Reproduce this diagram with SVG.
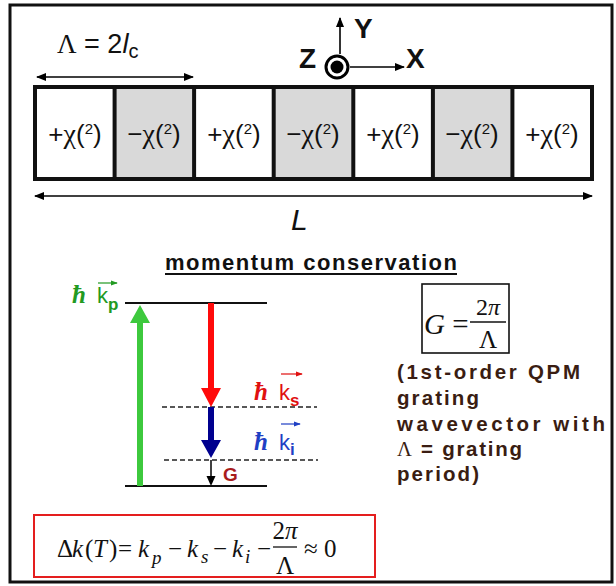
<svg xmlns="http://www.w3.org/2000/svg" width="616" height="586" viewBox="0 0 616 586">
<defs>
<marker id="ah" viewBox="0 0 10 8" refX="9" refY="4" markerWidth="10" markerHeight="8" markerUnits="userSpaceOnUse" orient="auto-start-reverse"><path d="M0,0 L10,4 L0,8 Z" fill="#000"/></marker>
<marker id="ahs" viewBox="0 0 8 6" refX="7" refY="3" markerWidth="7" markerHeight="6" markerUnits="userSpaceOnUse" orient="auto"><path d="M0,0 L8,3 L0,6 Z" fill="context-stroke"/></marker>
<style>
.sans{font-family:"Liberation Sans",Arial,sans-serif}
.serif{font-family:"Liberation Serif","Times New Roman",serif}
.cell{font-family:"Liberation Sans",Arial,sans-serif;font-size:26px;fill:#111;text-anchor:middle}
.chi{font-family:"Liberation Serif","Times New Roman",serif;font-size:28px}
.ln{stroke:#000;stroke-width:1.6;fill:none}
.dash{stroke:#222;stroke-width:1.6;stroke-dasharray:5 3;fill:none}
.lvl{stroke:#111;stroke-width:2;fill:none}
.desc{font-family:"Liberation Sans",Arial,sans-serif;font-weight:bold;font-size:20.5px;fill:#3a1d12}
.axis{font-family:"Liberation Sans",Arial,sans-serif;font-weight:bold;font-size:28px;fill:#111}
.eq{font-family:"Liberation Serif","Times New Roman",serif;font-size:25px;fill:#111}
.it{font-style:italic}
</style>
</defs>
<rect x="10" y="5" width="602" height="577" fill="#fff" stroke="#111" stroke-width="3"/>

<g id="period-label">
<text x="57" y="53" font-size="27" fill="#111"><tspan class="serif">Λ</tspan><tspan class="sans"> = 2</tspan><tspan class="sans" font-style="italic">l</tspan><tspan class="sans" font-size="20" dy="5">c</tspan></text>
</g>

<g id="axes">
<line x1="340" y1="54" x2="340" y2="18" class="ln" marker-end="url(#ah)"/>
<line x1="350" y1="67" x2="404" y2="67" class="ln" marker-end="url(#ah)"/>
<circle cx="337" cy="67" r="11" fill="#fff" stroke="#000" stroke-width="3"/>
<circle cx="337" cy="67" r="6.5" fill="#000"/>
<text x="354" y="38" class="axis">Y</text>
<text x="299" y="68" class="axis">Z</text>
<text x="406" y="68" class="axis">X</text>
</g>

<g id="crystal">
<rect x="35" y="87" width="557" height="92" fill="#fff"/>
<rect x="114.6" y="87" width="79.5" height="92" fill="#d9d9d9"/>
<rect x="273.7" y="87" width="79.6" height="92" fill="#d9d9d9"/>
<rect x="432.9" y="87" width="79.5" height="92" fill="#d9d9d9"/>
<g stroke="#111" stroke-width="4" fill="none">
<rect x="35" y="87" width="557" height="92"/>
<line x1="114.6" y1="87" x2="114.6" y2="179"/>
<line x1="194.1" y1="87" x2="194.1" y2="179"/>
<line x1="273.7" y1="87" x2="273.7" y2="179"/>
<line x1="353.3" y1="87" x2="353.3" y2="179"/>
<line x1="432.9" y1="87" x2="432.9" y2="179"/>
<line x1="512.4" y1="87" x2="512.4" y2="179"/>
</g>
<text x="75" y="143" class="cell">+<tspan class="chi">χ</tspan>(<tspan font-size="15" dy="-9">2</tspan><tspan dy="9">)</tspan></text>
<text x="154" y="143" class="cell">−<tspan class="chi">χ</tspan>(<tspan font-size="15" dy="-9">2</tspan><tspan dy="9">)</tspan></text>
<text x="234" y="143" class="cell">+<tspan class="chi">χ</tspan>(<tspan font-size="15" dy="-9">2</tspan><tspan dy="9">)</tspan></text>
<text x="313" y="143" class="cell">−<tspan class="chi">χ</tspan>(<tspan font-size="15" dy="-9">2</tspan><tspan dy="9">)</tspan></text>
<text x="393" y="143" class="cell">+<tspan class="chi">χ</tspan>(<tspan font-size="15" dy="-9">2</tspan><tspan dy="9">)</tspan></text>
<text x="472" y="143" class="cell">−<tspan class="chi">χ</tspan>(<tspan font-size="15" dy="-9">2</tspan><tspan dy="9">)</tspan></text>
<text x="552" y="143" class="cell">+<tspan class="chi">χ</tspan>(<tspan font-size="15" dy="-9">2</tspan><tspan dy="9">)</tspan></text>
</g>

<g id="connectors">
<line x1="37" y1="77" x2="193" y2="77" class="ln" marker-start="url(#ah)" marker-end="url(#ah)"/>
<line x1="35" y1="196" x2="592" y2="196" class="ln" marker-start="url(#ah)" marker-end="url(#ah)"/>
</g>
<text x="291" y="230" class="sans" font-style="italic" font-size="30" fill="#111">L</text>

<g id="title">
<text x="165" y="270" class="sans" font-weight="bold" font-size="22" fill="#111" textLength="292" lengthAdjust="spacing">momentum conservation</text>
<line x1="165" y1="274" x2="457" y2="274" stroke="#111" stroke-width="1.8"/>
</g>

<g id="levels">
<line x1="125" y1="303" x2="267" y2="303" class="lvl"/>
<line x1="125" y1="486" x2="267" y2="486" class="lvl"/>
<line x1="162" y1="407" x2="317" y2="407" class="dash"/>
<line x1="164" y1="460" x2="318" y2="460" class="dash"/>
</g>

<g id="arrows">
<path d="M137,486 L137,323 L130,323 L140,305 L150,323 L143,323 L143,486 Z" fill="#3dc93d"/>
<path d="M208,303 L214,303 L214,388 L221,388 L211,407 L201,388 L208,388 Z" fill="#ff0a0a"/>
<path d="M208,407 L214,407 L214,440 L221,440 L211,458 L201,440 L208,440 Z" fill="#00008f"/>
<line x1="211" y1="460" x2="211" y2="478" stroke="#000" stroke-width="1.5"/>
<path d="M206.5,476 L215.5,476 L211,486 Z" fill="#000"/>
</g>

<g id="label-kp" fill="#229a22">
<text x="72" y="303" class="serif" font-style="italic" font-weight="bold" font-size="25">ħ</text>
<text x="97" y="303" class="sans" font-size="22">k<tspan font-size="17" font-weight="bold" dy="7">p</tspan></text>
<line x1="98" y1="283" x2="117" y2="283" stroke="#229a22" stroke-width="1.2" marker-end="url(#ahs)"/>
</g>
<g id="label-ks" fill="#e01010">
<text x="254" y="400" class="serif" font-style="italic" font-weight="bold" font-size="25">ħ</text>
<text x="279" y="400" class="sans" font-size="22">k<tspan font-size="17" font-weight="bold" dy="6">s</tspan></text>
<line x1="281" y1="374" x2="302" y2="374" stroke="#e01010" stroke-width="1.2" marker-end="url(#ahs)"/>
</g>
<g id="label-ki" fill="#1f3fc4">
<text x="254" y="450" class="serif" font-style="italic" font-weight="bold" font-size="25">ħ</text>
<text x="279" y="450" class="sans" font-size="22">k<tspan font-size="17" font-weight="bold" dy="5">i</tspan></text>
<line x1="281" y1="424" x2="300" y2="424" stroke="#1f3fc4" stroke-width="1.2" marker-end="url(#ahs)"/>
</g>
<text x="223" y="481" class="sans" font-weight="bold" font-size="19" fill="#a81c1c">G</text>

<g id="g-box">
<rect x="422" y="284" width="87" height="69" fill="none" stroke="#111" stroke-width="1.6"/>
<text x="424" y="334" class="serif" font-size="29" fill="#111"><tspan font-style="italic">G</tspan> =</text>
<text x="488" y="315" class="serif" font-size="24" fill="#111" text-anchor="middle">2<tspan font-style="italic">π</tspan></text>
<line x1="470" y1="322" x2="506" y2="322" stroke="#111" stroke-width="1.3"/>
<text x="488" y="348" class="serif" font-size="25" fill="#111" text-anchor="middle">Λ</text>
</g>

<g id="description">
<text x="397" y="379" class="desc" textLength="183" lengthAdjust="spacing">(1st-order QPM</text>
<text x="397" y="405" class="desc" textLength="82" lengthAdjust="spacing">grating</text>
<text x="397" y="431" class="desc" textLength="208" lengthAdjust="spacing">wavevector with</text>
<text x="397" y="456" class="desc" textLength="125" lengthAdjust="spacing"><tspan font-family="Liberation Serif" font-weight="normal">Λ</tspan> = grating</text>
<text x="397" y="481" class="desc" textLength="82" lengthAdjust="spacing">period)</text>
</g>

<g id="equation">
<rect x="34" y="515" width="341" height="62" fill="#fff" stroke="#e41e1e" stroke-width="2"/>
<text y="557" class="eq"><tspan x="57">Δ</tspan><tspan x="72" class="it">k</tspan><tspan x="85">(</tspan><tspan x="93" class="it">T</tspan><tspan x="109">)</tspan><tspan x="118">=</tspan><tspan x="138" class="it">k</tspan><tspan x="152" y="564" class="it" font-size="19">p</tspan><tspan x="168" y="557">−</tspan><tspan x="187" class="it">k</tspan><tspan x="201" y="563" class="it" font-size="19">s</tspan><tspan x="213" y="557">−</tspan><tspan x="232" class="it">k</tspan><tspan x="245" y="563" class="it" font-size="19">i</tspan><tspan x="257" y="557">−</tspan></text>
<text x="285" y="539" class="eq" font-size="23" text-anchor="middle">2<tspan class="it">π</tspan></text>
<line x1="273" y1="547" x2="297" y2="547" stroke="#111" stroke-width="1.3"/>
<text x="285" y="574" class="eq" font-size="23" text-anchor="middle">Λ</text>
<text y="557" class="eq"><tspan x="304">≈</tspan><tspan x="324">0</tspan></text>
</g>
</svg>
